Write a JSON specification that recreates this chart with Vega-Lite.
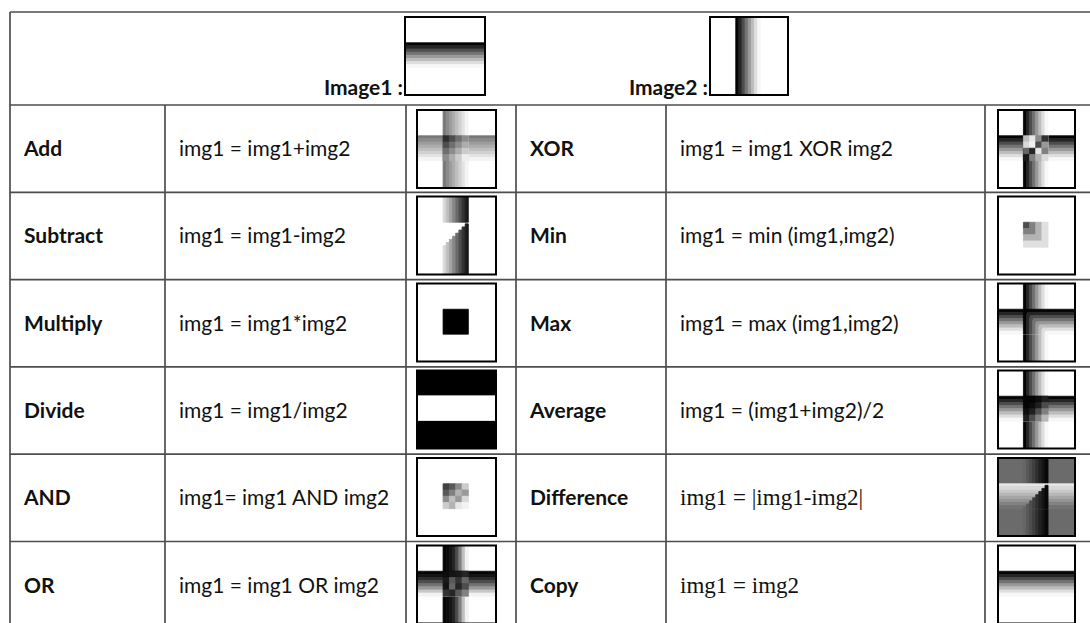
{
  "$schema": "https://vega.github.io/schema/vega-lite/v6.json",
  "width": 1090,
  "height": 623,
  "autosize": "none",
  "padding": 0,
  "background": "white",
  "config": {"view": {"stroke": null}},
  "datasets": {
    "ops": [
      {"op": "Add", "formula": "img1 = img1+img2", "row": 0, "ncol": 0, "fcol": 1},
      {"op": "XOR", "formula": "img1 = img1 XOR img2", "row": 0, "ncol": 3, "fcol": 4},
      {"op": "Subtract", "formula": "img1 = img1-img2", "row": 1, "ncol": 0, "fcol": 1},
      {"op": "Min", "formula": "img1 = min (img1,img2)", "row": 1, "ncol": 3, "fcol": 4},
      {"op": "Multiply", "formula": "img1 = img1*img2", "row": 2, "ncol": 0, "fcol": 1},
      {"op": "Max", "formula": "img1 = max (img1,img2)", "row": 2, "ncol": 3, "fcol": 4},
      {"op": "Divide", "formula": "img1 = img1/img2", "row": 3, "ncol": 0, "fcol": 1},
      {"op": "Average", "formula": "img1 = (img1+img2)/2", "row": 3, "ncol": 3, "fcol": 4},
      {"op": "AND", "formula": "img1= img1 AND img2", "row": 4, "ncol": 0, "fcol": 1},
      {"op": "Difference", "formula": "img1 = |img1-img2|", "row": 4, "ncol": 3, "fcol": 4},
      {"op": "OR", "formula": "img1 = img1 OR img2", "row": 5, "ncol": 0, "fcol": 1},
      {"op": "Copy", "formula": "img1 = img2", "row": 5, "ncol": 3, "fcol": 4}
    ],
    "thumbs": [
      {"img": "Image1", "label": "Image1 :"},
      {"img": "Image2", "label": "Image2 :"},
      {"img": "Add"}, {"img": "XOR"}, {"img": "Subtract"}, {"img": "Min"},
      {"img": "Multiply"}, {"img": "Max"}, {"img": "Divide"}, {"img": "Average"},
      {"img": "AND"}, {"img": "Difference"}, {"img": "OR"}, {"img": "Copy"}
    ],
    "hlines": [{"b": -1}, {"b": 0}, {"b": 1}, {"b": 2}, {"b": 3}, {"b": 4}, {"b": 5}],
    "vlines": [{"c": 0, "top": -1}, {"c": 1, "top": 0}, {"c": 2, "top": 0}, {"c": 3, "top": 0}, {"c": 4, "top": 0}, {"c": 5, "top": 0}],
    "cells": [
      {"img":"Image1","x0":0,"x1":1,"y0":0,"y1":1,"g":1},
      {"img":"Image1","x0":0,"x1":1,"y0":0.33,"y1":0.37,"g":0.02},
      {"img":"Image1","x0":0,"x1":1,"y0":0.37,"y1":0.41,"g":0.15},
      {"img":"Image1","x0":0,"x1":1,"y0":0.41,"y1":0.45,"g":0.3},
      {"img":"Image1","x0":0,"x1":1,"y0":0.45,"y1":0.49,"g":0.45},
      {"img":"Image1","x0":0,"x1":1,"y0":0.49,"y1":0.53,"g":0.6},
      {"img":"Image1","x0":0,"x1":1,"y0":0.53,"y1":0.57,"g":0.74},
      {"img":"Image1","x0":0,"x1":1,"y0":0.57,"y1":0.61,"g":0.87},
      {"img":"Image1","x0":0,"x1":1,"y0":0.61,"y1":0.65,"g":0.97},

      {"img":"Image2","x0":0,"x1":1,"y0":0,"y1":1,"g":1},
      {"img":"Image2","x0":0.33,"x1":0.37,"y0":0,"y1":1,"g":0.02},
      {"img":"Image2","x0":0.37,"x1":0.41,"y0":0,"y1":1,"g":0.15},
      {"img":"Image2","x0":0.41,"x1":0.45,"y0":0,"y1":1,"g":0.3},
      {"img":"Image2","x0":0.45,"x1":0.49,"y0":0,"y1":1,"g":0.45},
      {"img":"Image2","x0":0.49,"x1":0.53,"y0":0,"y1":1,"g":0.6},
      {"img":"Image2","x0":0.53,"x1":0.57,"y0":0,"y1":1,"g":0.74},
      {"img":"Image2","x0":0.57,"x1":0.61,"y0":0,"y1":1,"g":0.87},
      {"img":"Image2","x0":0.61,"x1":0.65,"y0":0,"y1":1,"g":0.97},

      {"img":"Copy","x0":0,"x1":1,"y0":0,"y1":1,"g":1},
      {"img":"Copy","x0":0,"x1":1,"y0":0.33,"y1":0.37,"g":0.02},
      {"img":"Copy","x0":0,"x1":1,"y0":0.37,"y1":0.41,"g":0.15},
      {"img":"Copy","x0":0,"x1":1,"y0":0.41,"y1":0.45,"g":0.3},
      {"img":"Copy","x0":0,"x1":1,"y0":0.45,"y1":0.49,"g":0.45},
      {"img":"Copy","x0":0,"x1":1,"y0":0.49,"y1":0.53,"g":0.6},
      {"img":"Copy","x0":0,"x1":1,"y0":0.53,"y1":0.57,"g":0.74},
      {"img":"Copy","x0":0,"x1":1,"y0":0.57,"y1":0.61,"g":0.87},
      {"img":"Copy","x0":0,"x1":1,"y0":0.61,"y1":0.65,"g":0.97},

      {"img":"Add","x0":0,"x1":1,"y0":0,"y1":1,"g":1},
      {"img":"Add","x0":0,"x1":1,"y0":0.33,"y1":0.37,"g":0.47},
      {"img":"Add","x0":0,"x1":1,"y0":0.37,"y1":0.41,"g":0.54},
      {"img":"Add","x0":0,"x1":1,"y0":0.41,"y1":0.45,"g":0.61},
      {"img":"Add","x0":0,"x1":1,"y0":0.45,"y1":0.49,"g":0.68},
      {"img":"Add","x0":0,"x1":1,"y0":0.49,"y1":0.53,"g":0.75},
      {"img":"Add","x0":0,"x1":1,"y0":0.53,"y1":0.57,"g":0.82},
      {"img":"Add","x0":0,"x1":1,"y0":0.57,"y1":0.61,"g":0.89},
      {"img":"Add","x0":0,"x1":1,"y0":0.61,"y1":0.65,"g":0.96},
      {"img":"Add","x0":0.33,"x1":0.37,"y0":0,"y1":1,"g":0.47},
      {"img":"Add","x0":0.37,"x1":0.41,"y0":0,"y1":1,"g":0.54},
      {"img":"Add","x0":0.41,"x1":0.45,"y0":0,"y1":1,"g":0.61},
      {"img":"Add","x0":0.45,"x1":0.49,"y0":0,"y1":1,"g":0.68},
      {"img":"Add","x0":0.49,"x1":0.53,"y0":0,"y1":1,"g":0.75},
      {"img":"Add","x0":0.53,"x1":0.57,"y0":0,"y1":1,"g":0.82},
      {"img":"Add","x0":0.57,"x1":0.61,"y0":0,"y1":1,"g":0.89},
      {"img":"Add","x0":0.61,"x1":0.65,"y0":0,"y1":1,"g":0.96},
      {"img":"Add","x0":0.33,"x1":0.41,"y0":0.33,"y1":0.41,"g":0.18},
      {"img":"Add","x0":0.41,"x1":0.49,"y0":0.33,"y1":0.41,"g":0.3},
      {"img":"Add","x0":0.49,"x1":0.57,"y0":0.33,"y1":0.41,"g":0.43},
      {"img":"Add","x0":0.57,"x1":0.65,"y0":0.33,"y1":0.41,"g":0.55},
      {"img":"Add","x0":0.33,"x1":0.41,"y0":0.41,"y1":0.49,"g":0.3},
      {"img":"Add","x0":0.41,"x1":0.49,"y0":0.41,"y1":0.49,"g":0.43},
      {"img":"Add","x0":0.49,"x1":0.57,"y0":0.41,"y1":0.49,"g":0.55},
      {"img":"Add","x0":0.57,"x1":0.65,"y0":0.41,"y1":0.49,"g":0.68},
      {"img":"Add","x0":0.33,"x1":0.41,"y0":0.49,"y1":0.57,"g":0.43},
      {"img":"Add","x0":0.41,"x1":0.49,"y0":0.49,"y1":0.57,"g":0.55},
      {"img":"Add","x0":0.49,"x1":0.57,"y0":0.49,"y1":0.57,"g":0.68},
      {"img":"Add","x0":0.57,"x1":0.65,"y0":0.49,"y1":0.57,"g":0.8},
      {"img":"Add","x0":0.33,"x1":0.41,"y0":0.57,"y1":0.65,"g":0.55},
      {"img":"Add","x0":0.41,"x1":0.49,"y0":0.57,"y1":0.65,"g":0.68},
      {"img":"Add","x0":0.49,"x1":0.57,"y0":0.57,"y1":0.65,"g":0.8},
      {"img":"Add","x0":0.57,"x1":0.65,"y0":0.57,"y1":0.65,"g":0.93},

      {"img":"XOR","x0":0,"x1":1,"y0":0,"y1":1,"g":1},
      {"img":"XOR","x0":0,"x1":1,"y0":0.33,"y1":0.37,"g":0.02},
      {"img":"XOR","x0":0,"x1":1,"y0":0.37,"y1":0.41,"g":0.15},
      {"img":"XOR","x0":0,"x1":1,"y0":0.41,"y1":0.45,"g":0.3},
      {"img":"XOR","x0":0,"x1":1,"y0":0.45,"y1":0.49,"g":0.45},
      {"img":"XOR","x0":0,"x1":1,"y0":0.49,"y1":0.53,"g":0.6},
      {"img":"XOR","x0":0,"x1":1,"y0":0.53,"y1":0.57,"g":0.74},
      {"img":"XOR","x0":0,"x1":1,"y0":0.57,"y1":0.61,"g":0.87},
      {"img":"XOR","x0":0,"x1":1,"y0":0.61,"y1":0.65,"g":0.97},
      {"img":"XOR","x0":0.33,"x1":0.37,"y0":0,"y1":1,"g":0.02},
      {"img":"XOR","x0":0.37,"x1":0.41,"y0":0,"y1":1,"g":0.15},
      {"img":"XOR","x0":0.41,"x1":0.45,"y0":0,"y1":1,"g":0.3},
      {"img":"XOR","x0":0.45,"x1":0.49,"y0":0,"y1":1,"g":0.45},
      {"img":"XOR","x0":0.49,"x1":0.53,"y0":0,"y1":1,"g":0.6},
      {"img":"XOR","x0":0.53,"x1":0.57,"y0":0,"y1":1,"g":0.74},
      {"img":"XOR","x0":0.57,"x1":0.61,"y0":0,"y1":1,"g":0.87},
      {"img":"XOR","x0":0.61,"x1":0.65,"y0":0,"y1":1,"g":0.97},
      {"img":"XOR","x0":0.33,"x1":0.41,"y0":0.33,"y1":0.41,"g":0.75},
      {"img":"XOR","x0":0.41,"x1":0.49,"y0":0.33,"y1":0.41,"g":0.9},
      {"img":"XOR","x0":0.49,"x1":0.57,"y0":0.33,"y1":0.41,"g":0.55},
      {"img":"XOR","x0":0.57,"x1":0.65,"y0":0.33,"y1":0.41,"g":0.2},
      {"img":"XOR","x0":0.33,"x1":0.41,"y0":0.41,"y1":0.49,"g":0.85},
      {"img":"XOR","x0":0.41,"x1":0.49,"y0":0.41,"y1":0.49,"g":0.95},
      {"img":"XOR","x0":0.49,"x1":0.57,"y0":0.41,"y1":0.49,"g":0.3},
      {"img":"XOR","x0":0.57,"x1":0.65,"y0":0.41,"y1":0.49,"g":0.6},
      {"img":"XOR","x0":0.33,"x1":0.41,"y0":0.49,"y1":0.57,"g":0.4},
      {"img":"XOR","x0":0.41,"x1":0.49,"y0":0.49,"y1":0.57,"g":0.15},
      {"img":"XOR","x0":0.49,"x1":0.57,"y0":0.49,"y1":0.57,"g":0.9},
      {"img":"XOR","x0":0.57,"x1":0.65,"y0":0.49,"y1":0.57,"g":0.5},
      {"img":"XOR","x0":0.33,"x1":0.41,"y0":0.57,"y1":0.65,"g":0.1},
      {"img":"XOR","x0":0.41,"x1":0.49,"y0":0.57,"y1":0.65,"g":0.5},
      {"img":"XOR","x0":0.49,"x1":0.57,"y0":0.57,"y1":0.65,"g":0.7},
      {"img":"XOR","x0":0.57,"x1":0.65,"y0":0.57,"y1":0.65,"g":0.85},

      {"img":"Subtract","x0":0,"x1":1,"y0":0,"y1":1,"g":1},
      {"img":"Subtract","x0":0.33,"x1":0.37,"y0":0,"y1":0.33,"g":0.85},
      {"img":"Subtract","x0":0.37,"x1":0.41,"y0":0,"y1":0.33,"g":0.75},
      {"img":"Subtract","x0":0.41,"x1":0.45,"y0":0,"y1":0.33,"g":0.64},
      {"img":"Subtract","x0":0.45,"x1":0.49,"y0":0,"y1":0.33,"g":0.53},
      {"img":"Subtract","x0":0.49,"x1":0.53,"y0":0,"y1":0.33,"g":0.42},
      {"img":"Subtract","x0":0.53,"x1":0.57,"y0":0,"y1":0.33,"g":0.31},
      {"img":"Subtract","x0":0.57,"x1":0.61,"y0":0,"y1":0.33,"g":0.2},
      {"img":"Subtract","x0":0.61,"x1":0.65,"y0":0,"y1":0.33,"g":0.1},
      {"img":"Subtract","x0":0.33,"x1":0.37,"y0":0.63,"y1":1,"g":0.85},
      {"img":"Subtract","x0":0.37,"x1":0.41,"y0":0.59,"y1":1,"g":0.75},
      {"img":"Subtract","x0":0.41,"x1":0.45,"y0":0.55,"y1":1,"g":0.64},
      {"img":"Subtract","x0":0.45,"x1":0.49,"y0":0.51,"y1":1,"g":0.53},
      {"img":"Subtract","x0":0.49,"x1":0.53,"y0":0.47,"y1":1,"g":0.42},
      {"img":"Subtract","x0":0.53,"x1":0.57,"y0":0.43,"y1":1,"g":0.31},
      {"img":"Subtract","x0":0.57,"x1":0.61,"y0":0.39,"y1":1,"g":0.2},
      {"img":"Subtract","x0":0.61,"x1":0.65,"y0":0.35,"y1":1,"g":0.1},

      {"img":"Min","x0":0,"x1":1,"y0":0,"y1":1,"g":1},
      {"img":"Min","x0":0.33,"x1":0.41,"y0":0.33,"y1":0.41,"g":0.3},
      {"img":"Min","x0":0.41,"x1":0.49,"y0":0.33,"y1":0.41,"g":0.5},
      {"img":"Min","x0":0.49,"x1":0.57,"y0":0.33,"y1":0.41,"g":0.7},
      {"img":"Min","x0":0.57,"x1":0.65,"y0":0.33,"y1":0.41,"g":0.88},
      {"img":"Min","x0":0.33,"x1":0.41,"y0":0.41,"y1":0.49,"g":0.5},
      {"img":"Min","x0":0.41,"x1":0.49,"y0":0.41,"y1":0.49,"g":0.5},
      {"img":"Min","x0":0.49,"x1":0.57,"y0":0.41,"y1":0.49,"g":0.7},
      {"img":"Min","x0":0.57,"x1":0.65,"y0":0.41,"y1":0.49,"g":0.88},
      {"img":"Min","x0":0.33,"x1":0.41,"y0":0.49,"y1":0.57,"g":0.7},
      {"img":"Min","x0":0.41,"x1":0.49,"y0":0.49,"y1":0.57,"g":0.7},
      {"img":"Min","x0":0.49,"x1":0.57,"y0":0.49,"y1":0.57,"g":0.7},
      {"img":"Min","x0":0.57,"x1":0.65,"y0":0.49,"y1":0.57,"g":0.88},
      {"img":"Min","x0":0.33,"x1":0.41,"y0":0.57,"y1":0.65,"g":0.88},
      {"img":"Min","x0":0.41,"x1":0.49,"y0":0.57,"y1":0.65,"g":0.88},
      {"img":"Min","x0":0.49,"x1":0.57,"y0":0.57,"y1":0.65,"g":0.88},
      {"img":"Min","x0":0.57,"x1":0.65,"y0":0.57,"y1":0.65,"g":0.88},

      {"img":"Multiply","x0":0,"x1":1,"y0":0,"y1":1,"g":1},
      {"img":"Multiply","x0":0.33,"x1":0.65,"y0":0.33,"y1":0.65,"g":0},

      {"img":"Max","x0":0,"x1":1,"y0":0,"y1":1,"g":1},
      {"img":"Max","x0":0.33,"x1":0.37,"y0":0,"y1":1,"g":0.02},
      {"img":"Max","x0":0.37,"x1":0.41,"y0":0,"y1":1,"g":0.15},
      {"img":"Max","x0":0.41,"x1":0.45,"y0":0,"y1":1,"g":0.3},
      {"img":"Max","x0":0.45,"x1":0.49,"y0":0,"y1":1,"g":0.45},
      {"img":"Max","x0":0.49,"x1":0.53,"y0":0,"y1":1,"g":0.6},
      {"img":"Max","x0":0.53,"x1":0.57,"y0":0,"y1":1,"g":0.74},
      {"img":"Max","x0":0.57,"x1":0.61,"y0":0,"y1":1,"g":0.87},
      {"img":"Max","x0":0.61,"x1":0.65,"y0":0,"y1":1,"g":0.97},
      {"img":"Max","x0":0,"x1":1,"y0":0.33,"y1":0.37,"g":0.02},
      {"img":"Max","x0":0,"x1":1,"y0":0.37,"y1":0.41,"g":0.15},
      {"img":"Max","x0":0,"x1":1,"y0":0.41,"y1":0.45,"g":0.3},
      {"img":"Max","x0":0,"x1":1,"y0":0.45,"y1":0.49,"g":0.45},
      {"img":"Max","x0":0,"x1":1,"y0":0.49,"y1":0.53,"g":0.6},
      {"img":"Max","x0":0,"x1":1,"y0":0.53,"y1":0.57,"g":0.74},
      {"img":"Max","x0":0,"x1":1,"y0":0.57,"y1":0.61,"g":0.87},
      {"img":"Max","x0":0,"x1":1,"y0":0.61,"y1":0.65,"g":0.97},
      {"img":"Max","x0":0.33,"x1":0.37,"y0":0.35,"y1":0.65,"g":0.02},
      {"img":"Max","x0":0.37,"x1":0.41,"y0":0.39,"y1":0.65,"g":0.15},
      {"img":"Max","x0":0.41,"x1":0.45,"y0":0.43,"y1":0.65,"g":0.3},
      {"img":"Max","x0":0.45,"x1":0.49,"y0":0.47,"y1":0.65,"g":0.45},
      {"img":"Max","x0":0.49,"x1":0.53,"y0":0.51,"y1":0.65,"g":0.6},
      {"img":"Max","x0":0.53,"x1":0.57,"y0":0.55,"y1":0.65,"g":0.74},
      {"img":"Max","x0":0.57,"x1":0.61,"y0":0.59,"y1":0.65,"g":0.87},
      {"img":"Max","x0":0.61,"x1":0.65,"y0":0.63,"y1":0.65,"g":0.97},

      {"img":"Divide","x0":0,"x1":1,"y0":0,"y1":1,"g":0},
      {"img":"Divide","x0":0,"x1":1,"y0":0.325,"y1":0.64,"g":1},

      {"img":"Average","x0":0,"x1":1,"y0":0,"y1":1,"g":1},
      {"img":"Average","x0":0.33,"x1":0.37,"y0":0,"y1":1,"g":0.02},
      {"img":"Average","x0":0.37,"x1":0.41,"y0":0,"y1":1,"g":0.15},
      {"img":"Average","x0":0.41,"x1":0.45,"y0":0,"y1":1,"g":0.3},
      {"img":"Average","x0":0.45,"x1":0.49,"y0":0,"y1":1,"g":0.45},
      {"img":"Average","x0":0.49,"x1":0.53,"y0":0,"y1":1,"g":0.6},
      {"img":"Average","x0":0.53,"x1":0.57,"y0":0,"y1":1,"g":0.74},
      {"img":"Average","x0":0.57,"x1":0.61,"y0":0,"y1":1,"g":0.87},
      {"img":"Average","x0":0.61,"x1":0.65,"y0":0,"y1":1,"g":0.97},
      {"img":"Average","x0":0,"x1":1,"y0":0.33,"y1":0.37,"g":0.02},
      {"img":"Average","x0":0,"x1":1,"y0":0.37,"y1":0.41,"g":0.15},
      {"img":"Average","x0":0,"x1":1,"y0":0.41,"y1":0.45,"g":0.3},
      {"img":"Average","x0":0,"x1":1,"y0":0.45,"y1":0.49,"g":0.45},
      {"img":"Average","x0":0,"x1":1,"y0":0.49,"y1":0.53,"g":0.6},
      {"img":"Average","x0":0,"x1":1,"y0":0.53,"y1":0.57,"g":0.74},
      {"img":"Average","x0":0,"x1":1,"y0":0.57,"y1":0.61,"g":0.87},
      {"img":"Average","x0":0,"x1":1,"y0":0.61,"y1":0.65,"g":0.97},
      {"img":"Average","x0":0.33,"x1":0.41,"y0":0.33,"y1":0.41,"g":0.02},
      {"img":"Average","x0":0.41,"x1":0.49,"y0":0.33,"y1":0.41,"g":0.02},
      {"img":"Average","x0":0.49,"x1":0.57,"y0":0.33,"y1":0.41,"g":0.05},
      {"img":"Average","x0":0.57,"x1":0.65,"y0":0.33,"y1":0.41,"g":0.12},
      {"img":"Average","x0":0.33,"x1":0.41,"y0":0.41,"y1":0.49,"g":0.02},
      {"img":"Average","x0":0.41,"x1":0.49,"y0":0.41,"y1":0.49,"g":0.05},
      {"img":"Average","x0":0.49,"x1":0.57,"y0":0.41,"y1":0.49,"g":0.12},
      {"img":"Average","x0":0.57,"x1":0.65,"y0":0.41,"y1":0.49,"g":0.3},
      {"img":"Average","x0":0.33,"x1":0.41,"y0":0.49,"y1":0.57,"g":0.05},
      {"img":"Average","x0":0.41,"x1":0.49,"y0":0.49,"y1":0.57,"g":0.12},
      {"img":"Average","x0":0.49,"x1":0.57,"y0":0.49,"y1":0.57,"g":0.3},
      {"img":"Average","x0":0.57,"x1":0.65,"y0":0.49,"y1":0.57,"g":0.5},
      {"img":"Average","x0":0.33,"x1":0.41,"y0":0.57,"y1":0.65,"g":0.12},
      {"img":"Average","x0":0.41,"x1":0.49,"y0":0.57,"y1":0.65,"g":0.3},
      {"img":"Average","x0":0.49,"x1":0.57,"y0":0.57,"y1":0.65,"g":0.5},
      {"img":"Average","x0":0.57,"x1":0.65,"y0":0.57,"y1":0.65,"g":0.72},

      {"img":"AND","x0":0,"x1":1,"y0":0,"y1":1,"g":1},
      {"img":"AND","x0":0.33,"x1":0.41,"y0":0.33,"y1":0.41,"g":0.25},
      {"img":"AND","x0":0.41,"x1":0.49,"y0":0.33,"y1":0.41,"g":0.35},
      {"img":"AND","x0":0.49,"x1":0.57,"y0":0.33,"y1":0.41,"g":0.55},
      {"img":"AND","x0":0.57,"x1":0.65,"y0":0.33,"y1":0.41,"g":0.8},
      {"img":"AND","x0":0.33,"x1":0.41,"y0":0.41,"y1":0.49,"g":0.35},
      {"img":"AND","x0":0.41,"x1":0.49,"y0":0.41,"y1":0.49,"g":0.5},
      {"img":"AND","x0":0.49,"x1":0.57,"y0":0.41,"y1":0.49,"g":0.7},
      {"img":"AND","x0":0.57,"x1":0.65,"y0":0.41,"y1":0.49,"g":0.6},
      {"img":"AND","x0":0.33,"x1":0.41,"y0":0.49,"y1":0.57,"g":0.55},
      {"img":"AND","x0":0.41,"x1":0.49,"y0":0.49,"y1":0.57,"g":0.75},
      {"img":"AND","x0":0.49,"x1":0.57,"y0":0.49,"y1":0.57,"g":0.6},
      {"img":"AND","x0":0.57,"x1":0.65,"y0":0.49,"y1":0.57,"g":0.85},
      {"img":"AND","x0":0.33,"x1":0.41,"y0":0.57,"y1":0.65,"g":0.8},
      {"img":"AND","x0":0.41,"x1":0.49,"y0":0.57,"y1":0.65,"g":0.7},
      {"img":"AND","x0":0.49,"x1":0.57,"y0":0.57,"y1":0.65,"g":0.9},
      {"img":"AND","x0":0.57,"x1":0.65,"y0":0.57,"y1":0.65,"g":0.95},

      {"img":"Difference","x0":0,"x1":1,"y0":0,"y1":1,"g":0.42},
      {"img":"Difference","x0":0.33,"x1":0.37,"y0":0,"y1":1,"g":0.4},
      {"img":"Difference","x0":0.37,"x1":0.41,"y0":0,"y1":1,"g":0.35},
      {"img":"Difference","x0":0.41,"x1":0.45,"y0":0,"y1":1,"g":0.3},
      {"img":"Difference","x0":0.45,"x1":0.49,"y0":0,"y1":1,"g":0.25},
      {"img":"Difference","x0":0.49,"x1":0.53,"y0":0,"y1":1,"g":0.19},
      {"img":"Difference","x0":0.53,"x1":0.57,"y0":0,"y1":1,"g":0.13},
      {"img":"Difference","x0":0.57,"x1":0.61,"y0":0,"y1":1,"g":0.08},
      {"img":"Difference","x0":0.61,"x1":0.65,"y0":0,"y1":1,"g":0.03},
      {"img":"Difference","x0":0,"x1":1,"y0":0.33,"y1":0.37,"g":0.9},
      {"img":"Difference","x0":0,"x1":1,"y0":0.37,"y1":0.41,"g":0.85},
      {"img":"Difference","x0":0,"x1":1,"y0":0.41,"y1":0.45,"g":0.79},
      {"img":"Difference","x0":0,"x1":1,"y0":0.45,"y1":0.49,"g":0.72},
      {"img":"Difference","x0":0,"x1":1,"y0":0.49,"y1":0.53,"g":0.65},
      {"img":"Difference","x0":0,"x1":1,"y0":0.53,"y1":0.57,"g":0.58},
      {"img":"Difference","x0":0,"x1":1,"y0":0.57,"y1":0.61,"g":0.51},
      {"img":"Difference","x0":0,"x1":1,"y0":0.61,"y1":0.65,"g":0.45},
      {"img":"Difference","x0":0.33,"x1":0.37,"y0":0.63,"y1":0.65,"g":0.4},
      {"img":"Difference","x0":0.37,"x1":0.41,"y0":0.59,"y1":0.65,"g":0.35},
      {"img":"Difference","x0":0.41,"x1":0.45,"y0":0.55,"y1":0.65,"g":0.3},
      {"img":"Difference","x0":0.45,"x1":0.49,"y0":0.51,"y1":0.65,"g":0.25},
      {"img":"Difference","x0":0.49,"x1":0.53,"y0":0.47,"y1":0.65,"g":0.19},
      {"img":"Difference","x0":0.53,"x1":0.57,"y0":0.43,"y1":0.65,"g":0.13},
      {"img":"Difference","x0":0.57,"x1":0.61,"y0":0.39,"y1":0.65,"g":0.08},
      {"img":"Difference","x0":0.61,"x1":0.65,"y0":0.35,"y1":0.65,"g":0.03},

      {"img":"OR","x0":0,"x1":1,"y0":0,"y1":1,"g":1},
      {"img":"OR","x0":0.33,"x1":0.37,"y0":0,"y1":1,"g":0.02},
      {"img":"OR","x0":0.37,"x1":0.41,"y0":0,"y1":1,"g":0.04},
      {"img":"OR","x0":0.41,"x1":0.45,"y0":0,"y1":1,"g":0.08},
      {"img":"OR","x0":0.45,"x1":0.49,"y0":0,"y1":1,"g":0.15},
      {"img":"OR","x0":0.49,"x1":0.53,"y0":0,"y1":1,"g":0.3},
      {"img":"OR","x0":0.53,"x1":0.57,"y0":0,"y1":1,"g":0.5},
      {"img":"OR","x0":0.57,"x1":0.61,"y0":0,"y1":1,"g":0.75},
      {"img":"OR","x0":0.61,"x1":0.65,"y0":0,"y1":1,"g":0.95},
      {"img":"OR","x0":0,"x1":1,"y0":0.33,"y1":0.37,"g":0.02},
      {"img":"OR","x0":0,"x1":1,"y0":0.37,"y1":0.41,"g":0.08},
      {"img":"OR","x0":0,"x1":1,"y0":0.41,"y1":0.45,"g":0.18},
      {"img":"OR","x0":0,"x1":1,"y0":0.45,"y1":0.49,"g":0.3},
      {"img":"OR","x0":0,"x1":1,"y0":0.49,"y1":0.53,"g":0.45},
      {"img":"OR","x0":0,"x1":1,"y0":0.53,"y1":0.57,"g":0.6},
      {"img":"OR","x0":0,"x1":1,"y0":0.57,"y1":0.61,"g":0.78},
      {"img":"OR","x0":0,"x1":1,"y0":0.61,"y1":0.65,"g":0.95},
      {"img":"OR","x0":0.33,"x1":0.41,"y0":0.33,"y1":0.41,"g":0.05},
      {"img":"OR","x0":0.41,"x1":0.49,"y0":0.33,"y1":0.41,"g":0.08},
      {"img":"OR","x0":0.49,"x1":0.57,"y0":0.33,"y1":0.41,"g":0.1},
      {"img":"OR","x0":0.57,"x1":0.65,"y0":0.33,"y1":0.41,"g":0.15},
      {"img":"OR","x0":0.33,"x1":0.41,"y0":0.41,"y1":0.49,"g":0.1},
      {"img":"OR","x0":0.41,"x1":0.49,"y0":0.41,"y1":0.49,"g":0.35},
      {"img":"OR","x0":0.49,"x1":0.57,"y0":0.41,"y1":0.49,"g":0.2},
      {"img":"OR","x0":0.57,"x1":0.65,"y0":0.41,"y1":0.49,"g":0.4},
      {"img":"OR","x0":0.33,"x1":0.41,"y0":0.49,"y1":0.57,"g":0.08},
      {"img":"OR","x0":0.41,"x1":0.49,"y0":0.49,"y1":0.57,"g":0.4},
      {"img":"OR","x0":0.49,"x1":0.57,"y0":0.49,"y1":0.57,"g":0.15},
      {"img":"OR","x0":0.57,"x1":0.65,"y0":0.49,"y1":0.57,"g":0.3},
      {"img":"OR","x0":0.33,"x1":0.41,"y0":0.57,"y1":0.65,"g":0.2},
      {"img":"OR","x0":0.41,"x1":0.49,"y0":0.57,"y1":0.65,"g":0.15},
      {"img":"OR","x0":0.49,"x1":0.57,"y0":0.57,"y1":0.65,"g":0.35},
      {"img":"OR","x0":0.57,"x1":0.65,"y0":0.57,"y1":0.65,"g":0.5}
    ]
  },
  "layer": [
    {
      "layer": [
        {
          "data": {"name": "hlines"},
          "mark": {"type": "rule", "stroke": "#4d4d4d", "strokeWidth": 1.7},
          "encoding": {
            "x": {"datum": 0, "type": "quantitative", "scale": {"type": "linear", "domain": [0, 1, 2, 3, 4, 5, 6], "range": [10, 165, 406, 516, 666, 985, 1090], "zero": false, "nice": false}, "axis": null},
            "x2": {"datum": 6},
            "y": {"field": "b", "type": "quantitative", "scale": {"type": "linear", "domain": [-1, 0, 6], "range": [12, 105, 628.8], "zero": false, "nice": false}, "axis": null}
          }
        },
        {
          "data": {"name": "vlines"},
          "mark": {"type": "rule", "stroke": "#4d4d4d", "strokeWidth": 1.7},
          "encoding": {
            "x": {"field": "c", "type": "quantitative", "axis": null},
            "y": {"field": "top", "type": "quantitative", "axis": null},
            "y2": {"datum": 6}
          }
        },
        {
          "data": {"name": "ops"},
          "mark": {"type": "text", "font": "Lato", "fontWeight": "bold", "fontSize": 21, "align": "left", "baseline": "alphabetic", "dx": 14, "dy": 51, "color": "#111111"},
          "encoding": {
            "x": {"field": "ncol", "type": "quantitative", "axis": null},
            "y": {"field": "row", "type": "quantitative", "axis": null},
            "text": {"field": "op"}
          }
        },
        {
          "data": {"name": "ops"},
          "transform": [{"filter": "datum.op !== 'Difference' && datum.op !== 'Copy'"}],
          "mark": {"type": "text", "font": "Lato", "fontSize": 21, "align": "left", "baseline": "alphabetic", "dx": 14, "dy": 51, "color": "#111111"},
          "encoding": {
            "x": {"field": "fcol", "type": "quantitative", "axis": null},
            "y": {"field": "row", "type": "quantitative", "axis": null},
            "text": {"field": "formula"}
          }
        },
        {
          "data": {"name": "ops"},
          "transform": [{"filter": "datum.op === 'Difference' || datum.op === 'Copy'"}],
          "mark": {"type": "text", "font": "Liberation Serif", "fontSize": 23, "align": "left", "baseline": "alphabetic", "dx": 14, "dy": 51, "color": "#111111"},
          "encoding": {
            "x": {"field": "fcol", "type": "quantitative", "axis": null},
            "y": {"field": "row", "type": "quantitative", "axis": null},
            "text": {"field": "formula"}
          }
        }
      ]
    },
    {
      "layer": [
        {"data": {"name": "cells"}, "transform": [{"filter": "datum.img === 'Image1'"}], "mark": {"type": "rect", "strokeWidth": 0.8},
         "encoding": {"x": {"field": "x0", "type": "quantitative", "scale": {"domain": [0, 1], "range": [405, 485]}, "axis": null}, "x2": {"field": "x1"},
                      "y": {"field": "y0", "type": "quantitative", "scale": {"domain": [0, 1], "range": [17, 95]}, "axis": null}, "y2": {"field": "y1"},
                      "color": {"field": "g", "type": "quantitative", "scale": {"domain": [0, 1], "range": ["#000000", "#ffffff"], "interpolate": "rgb"}, "legend": null},
                      "stroke": {"field": "g", "type": "quantitative", "scale": {"domain": [0, 1], "range": ["#000000", "#ffffff"], "interpolate": "rgb"}, "legend": null}}},
        {"data": {"name": "thumbs"}, "transform": [{"filter": "datum.img === 'Image1'"}], "mark": {"type": "rect", "filled": false, "stroke": "#000000", "strokeWidth": 2},
         "encoding": {"x": {"datum": 0, "type": "quantitative"}, "x2": {"datum": 1}, "y": {"datum": 0, "type": "quantitative"}, "y2": {"datum": 1}}},
        {"data": {"name": "thumbs"}, "transform": [{"filter": "datum.img === 'Image1'"}], "mark": {"type": "text", "font": "Lato", "fontWeight": "bold", "fontSize": 21, "align": "right", "baseline": "alphabetic", "dx": -2, "color": "#111111"},
         "encoding": {"x": {"datum": 0, "type": "quantitative"}, "y": {"datum": 1, "type": "quantitative"}, "text": {"field": "label"}}}
      ]
    },
    {
      "layer": [
        {"data": {"name": "cells"}, "transform": [{"filter": "datum.img === 'Image2'"}], "mark": {"type": "rect", "strokeWidth": 0.8},
         "encoding": {"x": {"field": "x0", "type": "quantitative", "scale": {"domain": [0, 1], "range": [710, 788]}, "axis": null}, "x2": {"field": "x1"},
                      "y": {"field": "y0", "type": "quantitative", "scale": {"domain": [0, 1], "range": [17, 95]}, "axis": null}, "y2": {"field": "y1"},
                      "color": {"field": "g", "type": "quantitative", "scale": {"domain": [0, 1], "range": ["#000000", "#ffffff"], "interpolate": "rgb"}, "legend": null},
                      "stroke": {"field": "g", "type": "quantitative", "scale": {"domain": [0, 1], "range": ["#000000", "#ffffff"], "interpolate": "rgb"}, "legend": null}}},
        {"data": {"name": "thumbs"}, "transform": [{"filter": "datum.img === 'Image2'"}], "mark": {"type": "rect", "filled": false, "stroke": "#000000", "strokeWidth": 2},
         "encoding": {"x": {"datum": 0, "type": "quantitative"}, "x2": {"datum": 1}, "y": {"datum": 0, "type": "quantitative"}, "y2": {"datum": 1}}},
        {"data": {"name": "thumbs"}, "transform": [{"filter": "datum.img === 'Image2'"}], "mark": {"type": "text", "font": "Lato", "fontWeight": "bold", "fontSize": 21, "align": "right", "baseline": "alphabetic", "dx": -2, "color": "#111111"},
         "encoding": {"x": {"datum": 0, "type": "quantitative"}, "y": {"datum": 1, "type": "quantitative"}, "text": {"field": "label"}}}
      ]
    },
    {
      "layer": [
        {"data": {"name": "cells"}, "transform": [{"filter": "datum.img === 'Add'"}], "mark": {"type": "rect", "strokeWidth": 0.8},
         "encoding": {"x": {"field": "x0", "type": "quantitative", "scale": {"domain": [0, 1], "range": [417, 496]}, "axis": null}, "x2": {"field": "x1"},
                      "y": {"field": "y0", "type": "quantitative", "scale": {"domain": [0, 1], "range": [110, 188]}, "axis": null}, "y2": {"field": "y1"},
                      "color": {"field": "g", "type": "quantitative", "scale": {"domain": [0, 1], "range": ["#000000", "#ffffff"], "interpolate": "rgb"}, "legend": null},
                      "stroke": {"field": "g", "type": "quantitative", "scale": {"domain": [0, 1], "range": ["#000000", "#ffffff"], "interpolate": "rgb"}, "legend": null}}},
        {"data": {"name": "thumbs"}, "transform": [{"filter": "datum.img === 'Add'"}], "mark": {"type": "rect", "filled": false, "stroke": "#000000", "strokeWidth": 2},
         "encoding": {"x": {"datum": 0, "type": "quantitative"}, "x2": {"datum": 1}, "y": {"datum": 0, "type": "quantitative"}, "y2": {"datum": 1}}}
      ]
    },
    {
      "layer": [
        {"data": {"name": "cells"}, "transform": [{"filter": "datum.img === 'XOR'"}], "mark": {"type": "rect", "strokeWidth": 0.8},
         "encoding": {"x": {"field": "x0", "type": "quantitative", "scale": {"domain": [0, 1], "range": [998, 1075]}, "axis": null}, "x2": {"field": "x1"},
                      "y": {"field": "y0", "type": "quantitative", "scale": {"domain": [0, 1], "range": [110, 188]}, "axis": null}, "y2": {"field": "y1"},
                      "color": {"field": "g", "type": "quantitative", "scale": {"domain": [0, 1], "range": ["#000000", "#ffffff"], "interpolate": "rgb"}, "legend": null},
                      "stroke": {"field": "g", "type": "quantitative", "scale": {"domain": [0, 1], "range": ["#000000", "#ffffff"], "interpolate": "rgb"}, "legend": null}}},
        {"data": {"name": "thumbs"}, "transform": [{"filter": "datum.img === 'XOR'"}], "mark": {"type": "rect", "filled": false, "stroke": "#000000", "strokeWidth": 2},
         "encoding": {"x": {"datum": 0, "type": "quantitative"}, "x2": {"datum": 1}, "y": {"datum": 0, "type": "quantitative"}, "y2": {"datum": 1}}}
      ]
    },
    {
      "layer": [
        {"data": {"name": "cells"}, "transform": [{"filter": "datum.img === 'Subtract'"}], "mark": {"type": "rect", "strokeWidth": 0.8},
         "encoding": {"x": {"field": "x0", "type": "quantitative", "scale": {"domain": [0, 1], "range": [417, 496]}, "axis": null}, "x2": {"field": "x1"},
                      "y": {"field": "y0", "type": "quantitative", "scale": {"domain": [0, 1], "range": [196.5, 274.5]}, "axis": null}, "y2": {"field": "y1"},
                      "color": {"field": "g", "type": "quantitative", "scale": {"domain": [0, 1], "range": ["#000000", "#ffffff"], "interpolate": "rgb"}, "legend": null},
                      "stroke": {"field": "g", "type": "quantitative", "scale": {"domain": [0, 1], "range": ["#000000", "#ffffff"], "interpolate": "rgb"}, "legend": null}}},
        {"data": {"name": "thumbs"}, "transform": [{"filter": "datum.img === 'Subtract'"}], "mark": {"type": "rect", "filled": false, "stroke": "#000000", "strokeWidth": 2},
         "encoding": {"x": {"datum": 0, "type": "quantitative"}, "x2": {"datum": 1}, "y": {"datum": 0, "type": "quantitative"}, "y2": {"datum": 1}}}
      ]
    },
    {
      "layer": [
        {"data": {"name": "cells"}, "transform": [{"filter": "datum.img === 'Min'"}], "mark": {"type": "rect", "strokeWidth": 0.8},
         "encoding": {"x": {"field": "x0", "type": "quantitative", "scale": {"domain": [0, 1], "range": [998, 1075]}, "axis": null}, "x2": {"field": "x1"},
                      "y": {"field": "y0", "type": "quantitative", "scale": {"domain": [0, 1], "range": [196.5, 274.5]}, "axis": null}, "y2": {"field": "y1"},
                      "color": {"field": "g", "type": "quantitative", "scale": {"domain": [0, 1], "range": ["#000000", "#ffffff"], "interpolate": "rgb"}, "legend": null},
                      "stroke": {"field": "g", "type": "quantitative", "scale": {"domain": [0, 1], "range": ["#000000", "#ffffff"], "interpolate": "rgb"}, "legend": null}}},
        {"data": {"name": "thumbs"}, "transform": [{"filter": "datum.img === 'Min'"}], "mark": {"type": "rect", "filled": false, "stroke": "#000000", "strokeWidth": 2},
         "encoding": {"x": {"datum": 0, "type": "quantitative"}, "x2": {"datum": 1}, "y": {"datum": 0, "type": "quantitative"}, "y2": {"datum": 1}}}
      ]
    },
    {
      "layer": [
        {"data": {"name": "cells"}, "transform": [{"filter": "datum.img === 'Multiply'"}], "mark": {"type": "rect", "strokeWidth": 0.8},
         "encoding": {"x": {"field": "x0", "type": "quantitative", "scale": {"domain": [0, 1], "range": [417, 496]}, "axis": null}, "x2": {"field": "x1"},
                      "y": {"field": "y0", "type": "quantitative", "scale": {"domain": [0, 1], "range": [283.5, 361.5]}, "axis": null}, "y2": {"field": "y1"},
                      "color": {"field": "g", "type": "quantitative", "scale": {"domain": [0, 1], "range": ["#000000", "#ffffff"], "interpolate": "rgb"}, "legend": null},
                      "stroke": {"field": "g", "type": "quantitative", "scale": {"domain": [0, 1], "range": ["#000000", "#ffffff"], "interpolate": "rgb"}, "legend": null}}},
        {"data": {"name": "thumbs"}, "transform": [{"filter": "datum.img === 'Multiply'"}], "mark": {"type": "rect", "filled": false, "stroke": "#000000", "strokeWidth": 2},
         "encoding": {"x": {"datum": 0, "type": "quantitative"}, "x2": {"datum": 1}, "y": {"datum": 0, "type": "quantitative"}, "y2": {"datum": 1}}}
      ]
    },
    {
      "layer": [
        {"data": {"name": "cells"}, "transform": [{"filter": "datum.img === 'Max'"}], "mark": {"type": "rect", "strokeWidth": 0.8},
         "encoding": {"x": {"field": "x0", "type": "quantitative", "scale": {"domain": [0, 1], "range": [998, 1075]}, "axis": null}, "x2": {"field": "x1"},
                      "y": {"field": "y0", "type": "quantitative", "scale": {"domain": [0, 1], "range": [283.5, 361.5]}, "axis": null}, "y2": {"field": "y1"},
                      "color": {"field": "g", "type": "quantitative", "scale": {"domain": [0, 1], "range": ["#000000", "#ffffff"], "interpolate": "rgb"}, "legend": null},
                      "stroke": {"field": "g", "type": "quantitative", "scale": {"domain": [0, 1], "range": ["#000000", "#ffffff"], "interpolate": "rgb"}, "legend": null}}},
        {"data": {"name": "thumbs"}, "transform": [{"filter": "datum.img === 'Max'"}], "mark": {"type": "rect", "filled": false, "stroke": "#000000", "strokeWidth": 2},
         "encoding": {"x": {"datum": 0, "type": "quantitative"}, "x2": {"datum": 1}, "y": {"datum": 0, "type": "quantitative"}, "y2": {"datum": 1}}}
      ]
    },
    {
      "layer": [
        {"data": {"name": "cells"}, "transform": [{"filter": "datum.img === 'Divide'"}], "mark": {"type": "rect", "strokeWidth": 0.8},
         "encoding": {"x": {"field": "x0", "type": "quantitative", "scale": {"domain": [0, 1], "range": [417, 496]}, "axis": null}, "x2": {"field": "x1"},
                      "y": {"field": "y0", "type": "quantitative", "scale": {"domain": [0, 1], "range": [370.5, 448.5]}, "axis": null}, "y2": {"field": "y1"},
                      "color": {"field": "g", "type": "quantitative", "scale": {"domain": [0, 1], "range": ["#000000", "#ffffff"], "interpolate": "rgb"}, "legend": null},
                      "stroke": {"field": "g", "type": "quantitative", "scale": {"domain": [0, 1], "range": ["#000000", "#ffffff"], "interpolate": "rgb"}, "legend": null}}},
        {"data": {"name": "thumbs"}, "transform": [{"filter": "datum.img === 'Divide'"}], "mark": {"type": "rect", "filled": false, "stroke": "#000000", "strokeWidth": 2},
         "encoding": {"x": {"datum": 0, "type": "quantitative"}, "x2": {"datum": 1}, "y": {"datum": 0, "type": "quantitative"}, "y2": {"datum": 1}}}
      ]
    },
    {
      "layer": [
        {"data": {"name": "cells"}, "transform": [{"filter": "datum.img === 'Average'"}], "mark": {"type": "rect", "strokeWidth": 0.8},
         "encoding": {"x": {"field": "x0", "type": "quantitative", "scale": {"domain": [0, 1], "range": [998, 1075]}, "axis": null}, "x2": {"field": "x1"},
                      "y": {"field": "y0", "type": "quantitative", "scale": {"domain": [0, 1], "range": [370.5, 448.5]}, "axis": null}, "y2": {"field": "y1"},
                      "color": {"field": "g", "type": "quantitative", "scale": {"domain": [0, 1], "range": ["#000000", "#ffffff"], "interpolate": "rgb"}, "legend": null},
                      "stroke": {"field": "g", "type": "quantitative", "scale": {"domain": [0, 1], "range": ["#000000", "#ffffff"], "interpolate": "rgb"}, "legend": null}}},
        {"data": {"name": "thumbs"}, "transform": [{"filter": "datum.img === 'Average'"}], "mark": {"type": "rect", "filled": false, "stroke": "#000000", "strokeWidth": 2},
         "encoding": {"x": {"datum": 0, "type": "quantitative"}, "x2": {"datum": 1}, "y": {"datum": 0, "type": "quantitative"}, "y2": {"datum": 1}}}
      ]
    },
    {
      "layer": [
        {"data": {"name": "cells"}, "transform": [{"filter": "datum.img === 'AND'"}], "mark": {"type": "rect", "strokeWidth": 0.8},
         "encoding": {"x": {"field": "x0", "type": "quantitative", "scale": {"domain": [0, 1], "range": [417, 496]}, "axis": null}, "x2": {"field": "x1"},
                      "y": {"field": "y0", "type": "quantitative", "scale": {"domain": [0, 1], "range": [458, 536]}, "axis": null}, "y2": {"field": "y1"},
                      "color": {"field": "g", "type": "quantitative", "scale": {"domain": [0, 1], "range": ["#000000", "#ffffff"], "interpolate": "rgb"}, "legend": null},
                      "stroke": {"field": "g", "type": "quantitative", "scale": {"domain": [0, 1], "range": ["#000000", "#ffffff"], "interpolate": "rgb"}, "legend": null}}},
        {"data": {"name": "thumbs"}, "transform": [{"filter": "datum.img === 'AND'"}], "mark": {"type": "rect", "filled": false, "stroke": "#000000", "strokeWidth": 2},
         "encoding": {"x": {"datum": 0, "type": "quantitative"}, "x2": {"datum": 1}, "y": {"datum": 0, "type": "quantitative"}, "y2": {"datum": 1}}}
      ]
    },
    {
      "layer": [
        {"data": {"name": "cells"}, "transform": [{"filter": "datum.img === 'Difference'"}], "mark": {"type": "rect", "strokeWidth": 0.8},
         "encoding": {"x": {"field": "x0", "type": "quantitative", "scale": {"domain": [0, 1], "range": [998, 1075]}, "axis": null}, "x2": {"field": "x1"},
                      "y": {"field": "y0", "type": "quantitative", "scale": {"domain": [0, 1], "range": [458, 536]}, "axis": null}, "y2": {"field": "y1"},
                      "color": {"field": "g", "type": "quantitative", "scale": {"domain": [0, 1], "range": ["#000000", "#ffffff"], "interpolate": "rgb"}, "legend": null},
                      "stroke": {"field": "g", "type": "quantitative", "scale": {"domain": [0, 1], "range": ["#000000", "#ffffff"], "interpolate": "rgb"}, "legend": null}}},
        {"data": {"name": "thumbs"}, "transform": [{"filter": "datum.img === 'Difference'"}], "mark": {"type": "rect", "filled": false, "stroke": "#000000", "strokeWidth": 2},
         "encoding": {"x": {"datum": 0, "type": "quantitative"}, "x2": {"datum": 1}, "y": {"datum": 0, "type": "quantitative"}, "y2": {"datum": 1}}}
      ]
    },
    {
      "layer": [
        {"data": {"name": "cells"}, "transform": [{"filter": "datum.img === 'OR'"}], "mark": {"type": "rect", "strokeWidth": 0.8},
         "encoding": {"x": {"field": "x0", "type": "quantitative", "scale": {"domain": [0, 1], "range": [417, 496]}, "axis": null}, "x2": {"field": "x1"},
                      "y": {"field": "y0", "type": "quantitative", "scale": {"domain": [0, 1], "range": [545.5, 623.5]}, "axis": null}, "y2": {"field": "y1"},
                      "color": {"field": "g", "type": "quantitative", "scale": {"domain": [0, 1], "range": ["#000000", "#ffffff"], "interpolate": "rgb"}, "legend": null},
                      "stroke": {"field": "g", "type": "quantitative", "scale": {"domain": [0, 1], "range": ["#000000", "#ffffff"], "interpolate": "rgb"}, "legend": null}}},
        {"data": {"name": "thumbs"}, "transform": [{"filter": "datum.img === 'OR'"}], "mark": {"type": "rect", "filled": false, "stroke": "#000000", "strokeWidth": 2},
         "encoding": {"x": {"datum": 0, "type": "quantitative"}, "x2": {"datum": 1}, "y": {"datum": 0, "type": "quantitative"}, "y2": {"datum": 1}}}
      ]
    },
    {
      "layer": [
        {"data": {"name": "cells"}, "transform": [{"filter": "datum.img === 'Copy'"}], "mark": {"type": "rect", "strokeWidth": 0.8},
         "encoding": {"x": {"field": "x0", "type": "quantitative", "scale": {"domain": [0, 1], "range": [998, 1075]}, "axis": null}, "x2": {"field": "x1"},
                      "y": {"field": "y0", "type": "quantitative", "scale": {"domain": [0, 1], "range": [545.5, 623.5]}, "axis": null}, "y2": {"field": "y1"},
                      "color": {"field": "g", "type": "quantitative", "scale": {"domain": [0, 1], "range": ["#000000", "#ffffff"], "interpolate": "rgb"}, "legend": null},
                      "stroke": {"field": "g", "type": "quantitative", "scale": {"domain": [0, 1], "range": ["#000000", "#ffffff"], "interpolate": "rgb"}, "legend": null}}},
        {"data": {"name": "thumbs"}, "transform": [{"filter": "datum.img === 'Copy'"}], "mark": {"type": "rect", "filled": false, "stroke": "#000000", "strokeWidth": 2},
         "encoding": {"x": {"datum": 0, "type": "quantitative"}, "x2": {"datum": 1}, "y": {"datum": 0, "type": "quantitative"}, "y2": {"datum": 1}}}
      ]
    }
  ],
  "resolve": {"scale": {"x": "independent", "y": "independent"}}
}
